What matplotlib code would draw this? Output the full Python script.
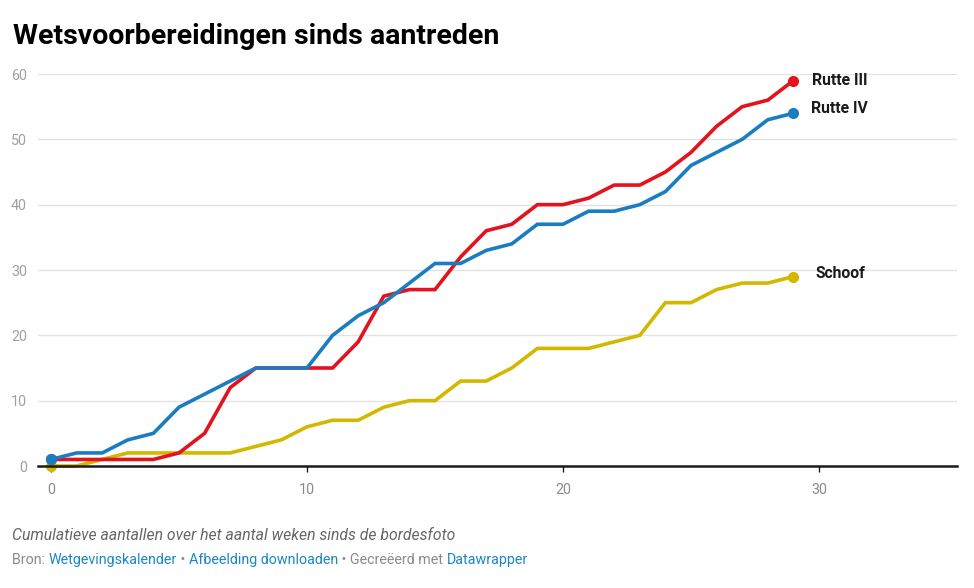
#!/usr/bin/env python3

import matplotlib
matplotlib.use("Agg")
import matplotlib.pyplot as plt

# Weeks since the "bordesfoto" and cumulative counts per cabinet.
weeks = list(range(30))
rutte_iii = [1, 1, 1, 1, 1, 2, 5, 12, 15, 15, 15, 15, 19, 26, 27, 27, 32, 36, 37, 40,
             40, 41, 43, 43, 45, 48, 52, 55, 56, 59]
rutte_iv = [1, 2, 2, 4, 5, 9, 11, 13, 15, 15, 15, 20, 23, 25, 28, 31, 31, 33, 34, 37,
            37, 39, 39, 40, 42, 46, 48, 50, 53, 54]
schoof = [0, 0, 1, 2, 2, 2, 2, 2, 3, 4, 6, 7, 7, 9, 10, 10, 13, 13, 15, 18,
          18, 18, 19, 20, 25, 25, 27, 28, 28, 29]

series_names = ["Schoof", "Rutte III", "Rutte IV"]
series_values = [schoof, rutte_iii, rutte_iv]
x_ticks = [0, 10, 20, 30]
y_ticks = [10, 20, 30, 40, 50, 60]

# Styling (kept apart from the data).
colors = {"Rutte III": "#e3131e", "Rutte IV": "#1a7dc2", "Schoof": "#d2b800"}
label_offsets = {"Rutte III": (46, 0), "Rutte IV": (46, 5), "Schoof": (47, 3)}

plt.rcParams["font.family"] = ["Roboto", "DejaVu Sans"]

W, H = 974, 588
fig = plt.figure(figsize=(W / 100, H / 100), dpi=100)

# Axes placed in pixel coordinates.
left_px, right_px, top_px, bottom_px = 38, 957, 74, 466
ax = fig.add_axes([left_px / W, 1 - bottom_px / H,
                   (right_px - left_px) / W, (bottom_px - top_px) / H])

px_per_unit = 25.6
x0_px = 51
ax.set_xlim((left_px - x0_px) / px_per_unit, (right_px - x0_px) / px_per_unit)
ax.set_ylim(0, 60)

for name, vals in zip(series_names, series_values):
    c = colors[name]
    ax.plot(weeks, vals, color=c, lw=2.6, solid_joinstyle="miter",
            solid_capstyle="butt", zorder=3, clip_on=False)
    ax.plot([weeks[0], weeks[-1]], [vals[0], vals[-1]], "o", color=c,
            ms=7, zorder=4, clip_on=False)
    dx, dy = label_offsets[name]
    ax.annotate(name, (weeks[-1], vals[-1]), xytext=(dx, dy),
                textcoords="offset pixels", ha="center", va="center",
                fontsize=11.3, fontweight="bold", color="#1a1a1a")

# Grid and axes styling.
for s in ["top", "right", "left"]:
    ax.spines[s].set_visible(False)
ax.spines["bottom"].set_color("#1a1a1a")
ax.spines["bottom"].set_linewidth(1.8)
ax.spines["bottom"].set_zorder(5)

ax.set_yticks([0] + y_ticks)
ax.set_xticks(x_ticks)
for yv in y_ticks:
    ax.axhline(yv, color="#e3e3e3", lw=1, zorder=1)
ax.tick_params(axis="y", length=0, pad=8, labelsize=10.3, labelcolor="#a0a0a0")
ax.tick_params(axis="x", length=4.5, width=1, color="#1a1a1a", pad=8,
               labelsize=10.3, labelcolor="#8a8a8a")

# Title and footer.
fig.text(13 / W, 1 - 36.5 / H, "Wetsvoorbereidingen sinds aantreden",
         fontsize=20.5, fontweight="bold", color="#000000", va="center", ha="left")
fig.text(12 / W, 1 - 536 / H, "Cumulatieve aantallen over het aantal weken sinds de bordesfoto",
         fontsize=11.3, style="italic", color="#666666", va="center", ha="left")

# Source line built from segments with different colours.
grey, link = "#8a8a8a", "#1a86c8"
parts = [("Bron: ", grey), ("Wetgevingskalender", link), (" \u2022 ", grey),
         ("Afbeelding downloaden", link), (" \u2022 Gecreëerd met ", grey),
         ("Datawrapper", link)]
fig.canvas.draw()
renderer = fig.canvas.get_renderer()
x = 12 / W
for txt, col in parts:
    t = fig.text(x, 1 - 560 / H, txt, fontsize=10.3, color=col, va="center", ha="left")
    bb = t.get_window_extent(renderer=renderer)
    x += bb.width / W

fig.savefig("out.png", dpi=100)
